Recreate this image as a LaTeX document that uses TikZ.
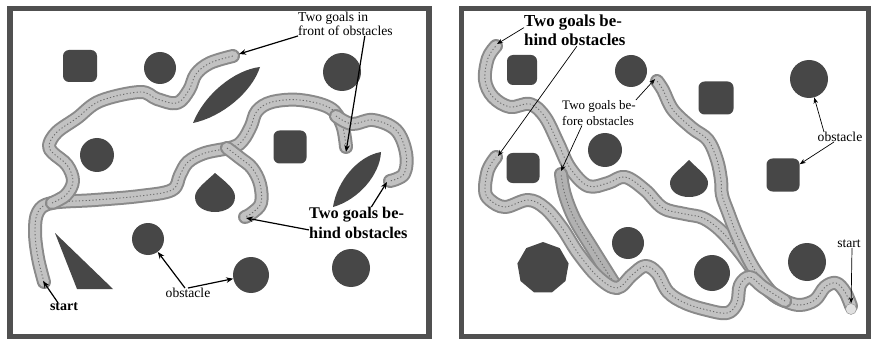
\documentclass[tikz,border=0pt]{standalone}
\usepackage{fontspec}
\setmainfont{Liberation Serif}
\usetikzlibrary{arrows.meta,shapes.geometric}
\definecolor{obst}{HTML}{474747}
\definecolor{panelgray}{HTML}{505050}
\definecolor{tubeedge}{HTML}{8A8A8A}
\definecolor{tubebody}{HTML}{C2C2C2}
\definecolor{tubegrain}{HTML}{6A6A6A}

%% one robot trajectory: edge, body and grain
\newcommand\tube[2][tubebody]{%
  \draw[tube edge] plot[smooth,tension=0.6] coordinates {#2};
  \draw[tube body, draw=#1] plot[smooth,tension=0.6] coordinates {#2};
  \draw[tube grain] plot[smooth,tension=0.6] coordinates {#2};}

\begin{document}
\begin{tikzpicture}[
  x=1pt, y=-1pt,
  obstacle/.style={fill=obst, draw=none, inner sep=0pt},
  blob/.style={obstacle, circle},
  block/.style={obstacle, rectangle, rounded corners=6pt},
  panel/.style={draw=panelgray, line width=5.5pt},
  tube edge/.style={draw=tubeedge, line width=14pt, line cap=round, line join=round},
  tube body/.style={line width=10pt, line cap=round, line join=round},
  tube grain/.style={draw=tubegrain, line width=0.9pt, dash pattern=on 1.2pt off 2.2pt},
  note/.style={inner sep=0pt, align=left, font=\fontsize{13.6}{14}\selectfont},
  big note/.style={inner sep=0pt, align=left, font=\bfseries\fontsize{16.3}{20}\selectfont},
  arrow/.style={-{Stealth[length=7pt,width=5.5pt]}, line width=1.2pt},
  thin arrow/.style={-{Stealth[length=6pt,width=4.5pt]}, line width=0.7pt}
]
\useasboundingbox[fill=white] (0,0) rectangle (873,342);

%% Panels
\draw[panel] (10,8.5) rectangle (429,336.5);
\draw[panel] (461.5,8.5) rectangle (868.5,336.5);

%% Left panel: obstacles
\node[block, minimum width=34pt, minimum height=32pt] (sq1L) at (80,66) {};
\node[blob, minimum size=32pt] (c1L) at (160,68) {};
\node[blob, minimum size=38pt] (c2L) at (342,72) {};
\node[blob, minimum size=34pt] (c5L) at (97,155) {};
\node[block, minimum width=33pt, minimum height=33pt] (sq2L) at (290,147) {};
\node[blob, minimum size=32pt] (c3L) at (148,239) {};
\node[blob, minimum size=36pt] (c4L) at (251,275) {};
\node[blob, minimum size=38pt] (c6L) at (351,268) {};
\fill[obst] (193,123) .. controls (204,95) and (234,70) .. (260,67)
  .. controls (252,92) and (222,117) .. cycle;
\fill[obst] (333,207) .. controls (337,181) and (358,156) .. (381,152)
  .. controls (380,175) and (358,200) .. cycle;
\fill[obst] (215,173) .. controls (203,184) and (195,190) .. (195,197)
  .. controls (195,207) and (205,212) .. (215,212)
  .. controls (225,212) and (235,207) .. (235,197)
  .. controls (235,189) and (227,183) .. cycle;
\fill[obst] (55,233) -- (77,289) -- (113,289) -- cycle;

%% Left panel: trajectories
\tube{(44,282) (38,258) (35,232) (38,212) (52,203) (95,200) (140,196) (172,190) (180,175) (188,162) (205,153) (233,147) (243,140) (251,126) (257,111) (272,102) (300,100) (330,108) (342,125) (346,147)}
\tube{(52,203) (66,195) (73,181) (67,165) (53,153) (49,145) (57,132) (77,118) (100,101) (140,92) (157,99) (177,103) (189,90) (196,74) (210,63) (233,56)}
\tube{(336,116) (352,124) (373,120) (396,130) (406,153) (404,174) (390,181)}
\tube{(227,148) (240,158) (252,168) (260,184) (261,203) (252,213) (245,217)}
\coordinate (gA) at (239,54);
\coordinate (gB1) at (346,152);
\coordinate (gB2) at (387,182);
\coordinate (gB3) at (246,218);
\coordinate (gS) at (43,281);

%% Left panel: labels
\node[note, anchor=north west] (frontL) at (298,12) {Two goals in\\front of obstacles};
\node[big note, anchor=north west] (behindL) at (309,207) {Two goals be-\\hind obstacles};
\node[inner sep=0pt, font=\bfseries\fontsize{14}{14}\selectfont] (startL) at (64,307) {start};
\node[note] (obsL) at (188,293) {obstacle};

\draw[arrow] (frontL.south west) -- (gA);
\draw[arrow] ([xshift=-28pt]frontL.south east) -- (gB1);
\draw[arrow] ([xshift=13pt]behindL.north) -- (gB2);
\draw[arrow] ([yshift=-7pt]behindL.west) -- (gB3);
\draw[arrow] ([xshift=-6pt]startL.north) -- (gS);
\draw[arrow] ([xshift=-3pt]obsL.north) -- (c3L);
\draw[arrow] (obsL.north) -- (c4L);

%% Right panel: obstacles
\node[block, minimum width=30pt, minimum height=30pt] (sq1R) at (522,70) {};
\node[blob, minimum size=32pt] (c1R) at (631,71) {};
\node[block, minimum width=35pt, minimum height=33pt] (sq2R) at (716,98) {};
\node[blob, minimum size=38pt] (c2R) at (809,79) {};
\node[blob, minimum size=34pt] (c3R) at (605,150) {};
\node[block, minimum width=33pt, minimum height=30pt] (sq3R) at (523,168) {};
\node[block, minimum width=33pt, minimum height=33pt] (sq4R) at (783,175) {};
\node[blob, minimum size=32pt] (c4R) at (628,243) {};
\node[obstacle, regular polygon, regular polygon sides=9, minimum size=52pt] (polyR) at (543,268) {};
\node[blob, minimum size=36pt] (c5R) at (712,273) {};
\node[blob, minimum size=38pt] (c6R) at (807,262) {};
\fill[obst] (689,160) .. controls (678,171) and (670,176) .. (670,183)
  .. controls (670,192) and (679,197) .. (689,197)
  .. controls (699,197) and (708,192) .. (708,183)
  .. controls (708,176) and (700,171) .. cycle;

%% Right panel: trajectories
\tube{(851,306) (845,292) (836,283) (825,287) (815,300) (800,305) (785,301) (770,292) (755,273) (738,250) (720,230) (703,218) (685,214) (663,208) (645,190) (625,177) (608,183) (588,186) (570,168) (558,143) (545,117) (530,104) (510,107) (493,97) (485,80) (488,58) (496,46)}
\tube{(785,301) (775,296) (763,282) (750,262) (737,235) (728,212) (722,195) (721,180) (717,160) (708,140) (692,128) (673,110) (663,90) (657,81)}
\tube[tubebody!70!tubeedge]{(617,288) (607,272) (592,248) (575,220) (565,195) (561,174)}
\tube{(785,301) (763,287) (750,277) (740,285) (737,303) (727,313) (707,310) (685,303) (668,292) (657,273) (645,266) (632,275) (617,288) (598,277) (578,253) (562,228) (545,208) (528,200) (505,207) (490,200) (485,190) (488,170) (496,157)}
\node[circle, draw=tubeedge, fill=tubebody!50, minimum size=11pt, inner sep=0pt] (home) at (851,309) {};
\coordinate (gR1) at (498,156);
\coordinate (gR2) at (561,171);
\coordinate (gR3) at (655,79);
\coordinate (gR4) at (497,44);

%% Right panel: labels
\node[big note, anchor=north west, font=\bfseries\fontsize{16.8}{19}\selectfont] (behindR) at (524,15) {Two goals be-\\hind obstacles};
\node[note, anchor=north west, font=\fontsize{13}{16}\selectfont] (beforeR) at (562,100) {Two goals be-\\fore obstacles};
\node[note] (obsR) at (840,137) {obstacle};
\node[note] (startR) at (849,244) {start};

\draw[thin arrow] ([yshift=3pt]behindR.west) -- (gR4);
\draw[thin arrow] ([xshift=2pt]behindR.south) -- (gR1);
\draw[thin arrow] (beforeR.north east) -- (gR3);
\draw[thin arrow] ([xshift=-17pt]beforeR.south) -- (gR2);
\draw[thin arrow] ([xshift=-16pt]obsR.north) -- (c2R);
\draw[thin arrow] ([xshift=-6pt]obsR.south) -- (sq4R);
\draw[thin arrow] ([xshift=3pt]startR.south) -- (home);

\end{tikzpicture}
\end{document}
